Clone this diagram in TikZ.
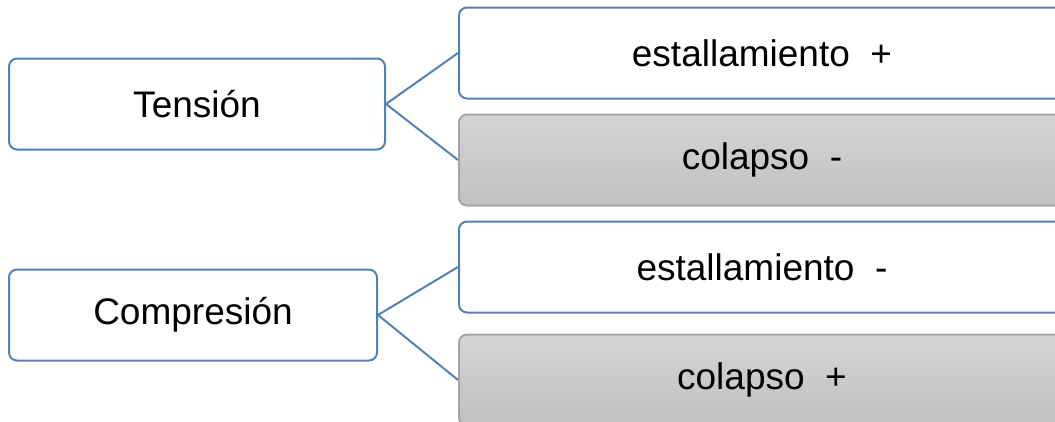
\documentclass[tikz,border=0pt]{standalone}
\usepackage{fontspec}
\setmainfont{Liberation Sans}
\usetikzlibrary{positioning}

\definecolor{boxblue}{RGB}{79,129,189}
\definecolor{boxgray}{RGB}{166,166,166}
\definecolor{graytop}{RGB}{213,213,213}
\definecolor{graybot}{RGB}{192,192,192}

\begin{document}
\begin{tikzpicture}[x=1pt, y=-1pt, node distance=14pt,
    block/.style={rectangle, rounded corners=8pt, line width=2pt, inner sep=0pt,
    font=\fontsize{37}{44}\selectfont, minimum height=91pt},
    bluebox/.style={block, draw=boxblue, fill=white},
    graybox/.style={block, draw=boxgray, top color=graytop, bottom color=graybot},
    wide/.style={minimum width=606pt},
    link/.style={draw=boxblue, line width=2pt}]

    \clip (0,0) rectangle (1055,421);

    % Load cases
    \node[bluebox, minimum width=376pt] (tension) at (197,104) {Tensión};
    \node[bluebox, minimum width=368pt] (compresion) at (193,315) {Compresión};

    % Effects
    \node[bluebox, wide] (estplus) at (762,53) {estallamiento\ \ +};
    \node[graybox, wide, below=of estplus] (colminus) {colapso\ \ -};
    \node[bluebox, wide, below=of colminus] (estminus) {estallamiento\ \ -};
    \node[graybox, wide, below=20pt of estminus] (colplus) {colapso\ \ +};

    \draw[link] (estplus.west) -- (tension.east) -- (colminus.west);
    \draw[link] (estminus.west) -- (compresion.east) -- (colplus.west);
\end{tikzpicture}
\end{document}
